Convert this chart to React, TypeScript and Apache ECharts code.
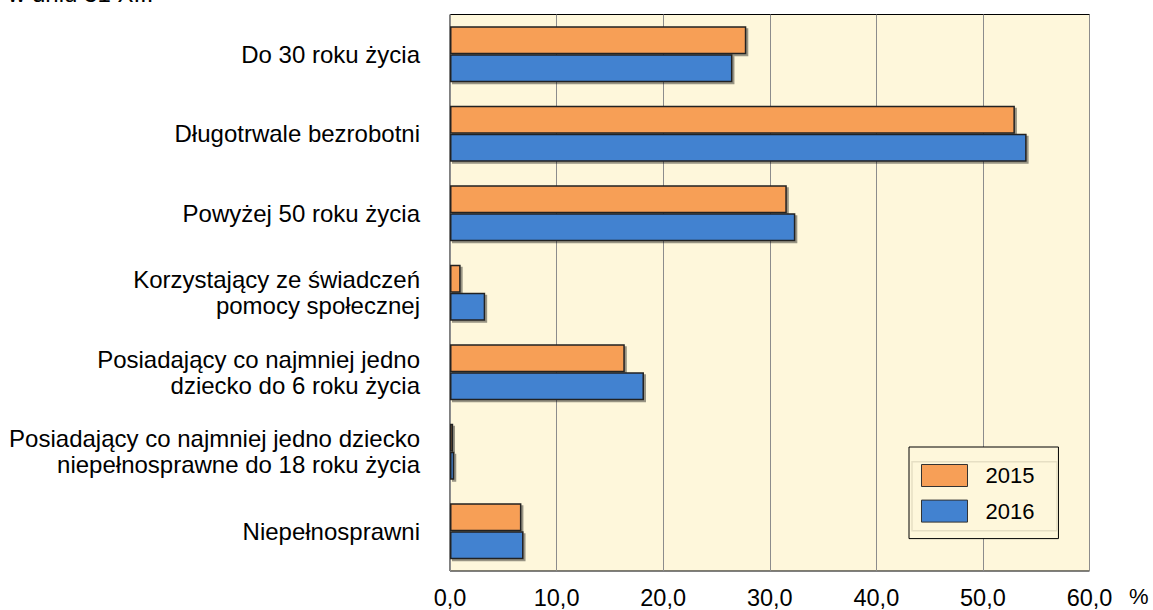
import React, { useEffect, useRef } from "react";
import * as echarts from "echarts";

const categories = [
  "Do 30 roku życia",
  "Długotrwale bezrobotni",
  "Powyżej 50 roku życia",
  "Korzystający ze świadczeń\npomocy społecznej",
  "Posiadający co najmniej jedno\ndziecko do 6 roku życia",
  "Posiadający co najmniej jedno dziecko\nniepełnosprawne do 18 roku życia",
  "Niepełnosprawni",
];
const seriesNames = ["2015", "2016"];
const values2015 = [27.8, 53.0, 31.6, 1.0, 16.4, 0.3, 6.7];
const values2016 = [26.5, 54.1, 32.4, 3.3, 18.2, 0.4, 6.9];
const xTicks = { min: 0, max: 60, interval: 10 };
const unitLabel = "%";
const topNote = "w dniu 31 XII.";

const FONT = "Liberation Sans, Arial, sans-serif";
const BG = "#FEF7DB";
const ORANGE = "#F79F57";
const BLUE = "#4282D0";

export default function App() {
  const ref = useRef<HTMLDivElement>(null);
  useEffect(() => {
    if (!ref.current) return;
    const chart = echarts.init(ref.current, null, { renderer: "svg" });
    const barStyle = (color: string) => ({
      color,
      borderColor: "#222",
      borderWidth: 1.5,
      shadowColor: "rgba(0,0,0,0.4)",
      shadowOffsetX: 2,
      shadowOffsetY: 2,
      shadowBlur: 0,
    });
    chart.setOption({
      animation: false,
      textStyle: { fontFamily: FONT },
      grid: {
        left: 450,
        right: 63.5,
        top: 14.5,
        bottom: 38,
        show: true,
        backgroundColor: BG,
        borderColor: "#000",
        borderWidth: 1,
        containLabel: false,
      },
      xAxis: {
        type: "value",
        min: xTicks.min,
        max: xTicks.max,
        interval: xTicks.interval,
        axisLine: { show: false },
        axisTick: { show: false },
        splitLine: { show: true, lineStyle: { color: "#8c8c8c", width: 1 } },
        axisLabel: {
          fontSize: 23.5,
          color: "#000",
          fontFamily: FONT,
          margin: 15,
          formatter: (v: number) => v.toFixed(1).replace(".", ","),
        },
      },
      yAxis: {
        type: "category",
        data: categories,
        inverse: true,
        axisLine: { show: false },
        axisTick: { show: false },
        splitLine: { show: false },
        axisLabel: {
          fontSize: 24,
          lineHeight: 26,
          color: "#000",
          fontFamily: FONT,
          margin: 30,
          align: "right",
        },
      },
      legend: {
        orient: "vertical",
        left: 909,
        top: 447,
        itemWidth: 46,
        itemHeight: 22,
        itemGap: 12.6,
        borderColor: "#000",
        borderWidth: 1,
        backgroundColor: BG,
        padding: [17, 24, 16, 12],
        icon: "rect",
        itemStyle: { borderColor: "#333", borderWidth: 1, shadowBlur: 0, shadowOffsetX: 0, shadowOffsetY: 0 },
        textStyle: { fontSize: 22, color: "#000", fontFamily: FONT, padding: [0, 0, 0, 13] },
        data: seriesNames,
      },
      series: [
        {
          name: seriesNames[0],
          type: "bar",
          data: values2015,
          barWidth: 28,
          barGap: "0%",
          itemStyle: barStyle(ORANGE),
        },
        {
          name: seriesNames[1],
          type: "bar",
          data: values2016,
          barWidth: 28,
          barGap: "0%",
          itemStyle: barStyle(BLUE),
        },
      ],
      graphic: [
        {
          type: "rect",
          z: 100,
          shape: { x: 912, y: 461.7, width: 145, height: 69 },
          style: { fill: "none", stroke: "#e6dfc4", lineWidth: 1.5 },
        },
        {
          type: "text",
          x: 1129,
          y: 585,
          style: {
            text: unitLabel,
            fontSize: 22,
            fontFamily: FONT,
            fill: "#000",
            verticalAlign: "top",
          },
        },
        {
          type: "text",
          x: 8,
          y: 5,
          style: {
            text: topNote,
            fontSize: 24,
            fontFamily: FONT,
            fill: "#000",
            verticalAlign: "bottom",
          },
        },
      ],
    });
    return () => chart.dispose();
  }, []);
  return (
    <div
      ref={ref}
      style={{ position: "absolute", left: 0, top: 0, width: 1153, height: 610, background: "#fff" }}
    />
  );
}
